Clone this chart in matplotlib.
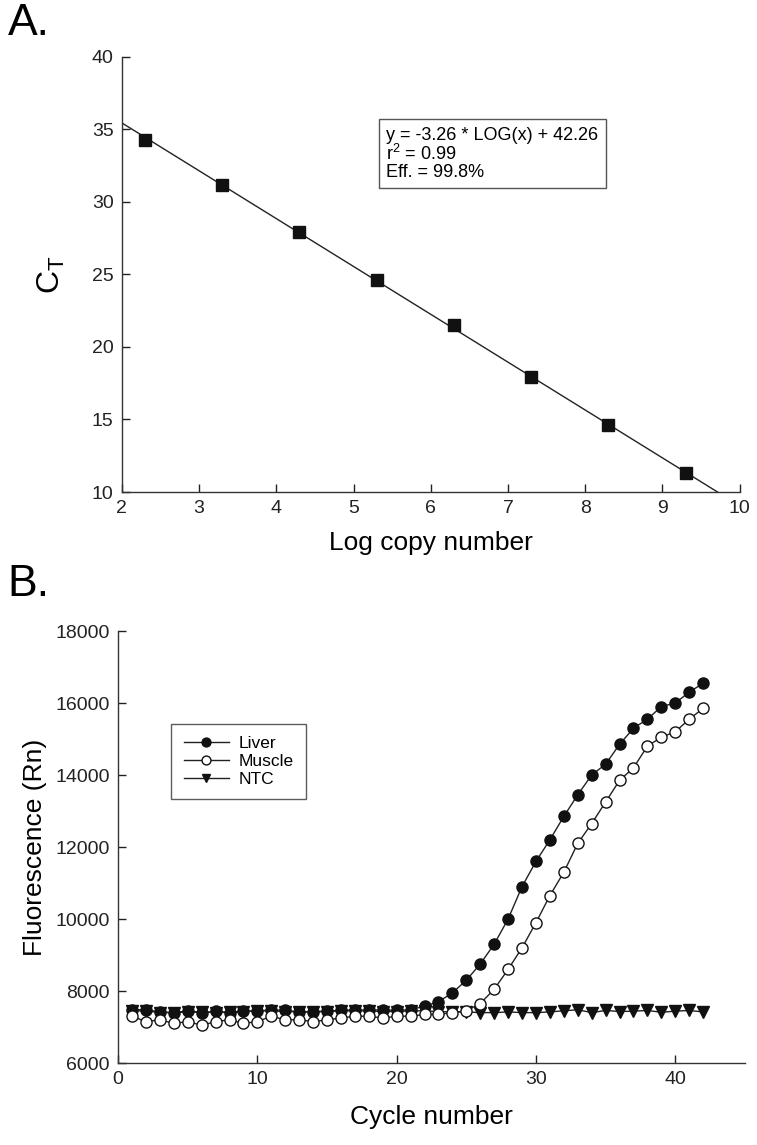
import matplotlib
matplotlib.use("Agg")
import matplotlib.pyplot as plt
import numpy as np

plt.rcParams['font.family'] = ['Liberation Sans', 'DejaVu Sans']
plt.rcParams['mathtext.fontset'] = 'custom'
plt.rcParams['mathtext.rm'] = 'Liberation Sans'
plt.rcParams['mathtext.it'] = 'Liberation Sans'

# Panel A data
log_copy = [2.3, 3.3, 4.3, 5.3, 6.3, 7.3, 8.3, 9.3]
ct_vals = [34.3, 31.2, 27.9, 24.6, 21.5, 17.9, 14.6, 11.3]
eq_lines = ["y = -3.26 * LOG(x) + 42.26", "r$^2$ = 0.99", "Eff. = 99.8%"]

# Panel B data
cycles = list(range(1, 43))
liver = [7480, 7480, 7420, 7400, 7450, 7380, 7440, 7380, 7440, 7440, 7480, 7460,
         7420, 7420, 7450, 7460, 7480, 7460, 7480, 7460, 7480, 7580, 7700, 7950,
         8300, 8750, 9300, 10000, 10900, 11600, 12200, 12850, 13450, 14000, 14300,
         14850, 15300, 15550, 15900, 16000, 16300, 16550]
muscle = [7300, 7150, 7200, 7100, 7150, 7050, 7150, 7200, 7100, 7150, 7300, 7200,
          7200, 7150, 7200, 7250, 7300, 7300, 7250, 7300, 7300, 7350, 7350, 7400,
          7450, 7650, 8050, 8600, 9200, 9900, 10650, 11300, 12100, 12650, 13250,
          13850, 14200, 14800, 15050, 15200, 15550, 15850]
ntc = [7450, 7450, 7400, 7400, 7420, 7430, 7400, 7430, 7430, 7450, 7450, 7430,
       7420, 7420, 7430, 7450, 7450, 7450, 7430, 7430, 7450, 7450, 7430, 7420,
       7420, 7400, 7400, 7420, 7400, 7400, 7420, 7450, 7480, 7400, 7460, 7430,
       7440, 7460, 7410, 7440, 7460, 7420]

fig = plt.figure(figsize=(7.57, 11.45), dpi=100)

tick_fs = 14
label_fs = 19

def style(ax):
    for s in ['top', 'right']:
        ax.spines[s].set_visible(False)
    for s in ['left', 'bottom']:
        ax.spines[s].set_linewidth(1.0)
        ax.spines[s].set_color('#333333')
    ax.tick_params(direction='in', length=6, width=1, labelsize=tick_fs, colors='#222222', pad=6)

# Panel A
ax1 = fig.add_axes([0.161, 0.5703, 0.816, 0.380])
style(ax1)
slope, intercept = np.polyfit(log_copy, ct_vals, 1)
xl = np.linspace(2, 10, 200)
ax1.plot(xl, slope * xl + intercept, color='#222222', lw=1.0, zorder=2)
ax1.plot(log_copy, ct_vals, 's', color='#111111', ms=9, zorder=3)
ax1.set_xlim(2, 10)
ax1.set_ylim(10, 40)
ax1.set_xticks(range(2, 11))
ax1.set_yticks(range(10, 41, 5))
ax1.set_xlabel('Log copy number', fontsize=label_fs, labelpad=10)
ax1.set_ylabel(r'C$_\mathrm{T}$', fontsize=label_fs + 4, labelpad=18)
ax1.text(0.428, 0.840, "\n".join(eq_lines), transform=ax1.transAxes, fontsize=13,
         va='top', ha='left', linespacing=1.0,
         bbox=dict(boxstyle='square,pad=0.4', fc='white', ec='#555555', lw=1.0))

fig.text(0.010, 0.997, 'A.', fontsize=32, va='top', ha='left')

# Panel B
ax2 = fig.add_axes([0.156, 0.0716, 0.828, 0.3773])
style(ax2)
ax2.plot(cycles, liver, '-o', color='#222222', mfc='#111111', mec='#111111', ms=8, lw=1.0,
         label='Liver', zorder=3)
ax2.plot(cycles, muscle, '-o', color='#222222', mfc='white', mec='#111111', ms=8, lw=1.0,
         mew=1.0, label='Muscle', zorder=4)
ax2.plot(cycles, ntc, '-v', color='#222222', mfc='#111111', mec='#111111', ms=8, lw=1.0,
         label='NTC', zorder=2)
ax2.set_xlim(0, 45)
ax2.set_ylim(6000, 18000)
ax2.set_xticks(range(0, 41, 10))
ax2.set_yticks(range(6000, 18001, 2000))
ax2.set_xlabel('Cycle number', fontsize=label_fs, labelpad=12)
ax2.set_ylabel('Fluorescence (Rn)', fontsize=label_fs, labelpad=6)
leg = ax2.legend(loc='upper left', bbox_to_anchor=(0.085, 0.785), fontsize=12.5, frameon=True,
                 fancybox=False, edgecolor='#333333', handlelength=2.6, borderpad=0.7,
                 labelspacing=0.15, markerscale=0.8, handletextpad=0.6, borderaxespad=0)
leg.get_frame().set_linewidth(1.0)

fig.text(0.010, 0.507, 'B.', fontsize=32, va='top', ha='left')

fig.savefig('out.png', dpi=100)
